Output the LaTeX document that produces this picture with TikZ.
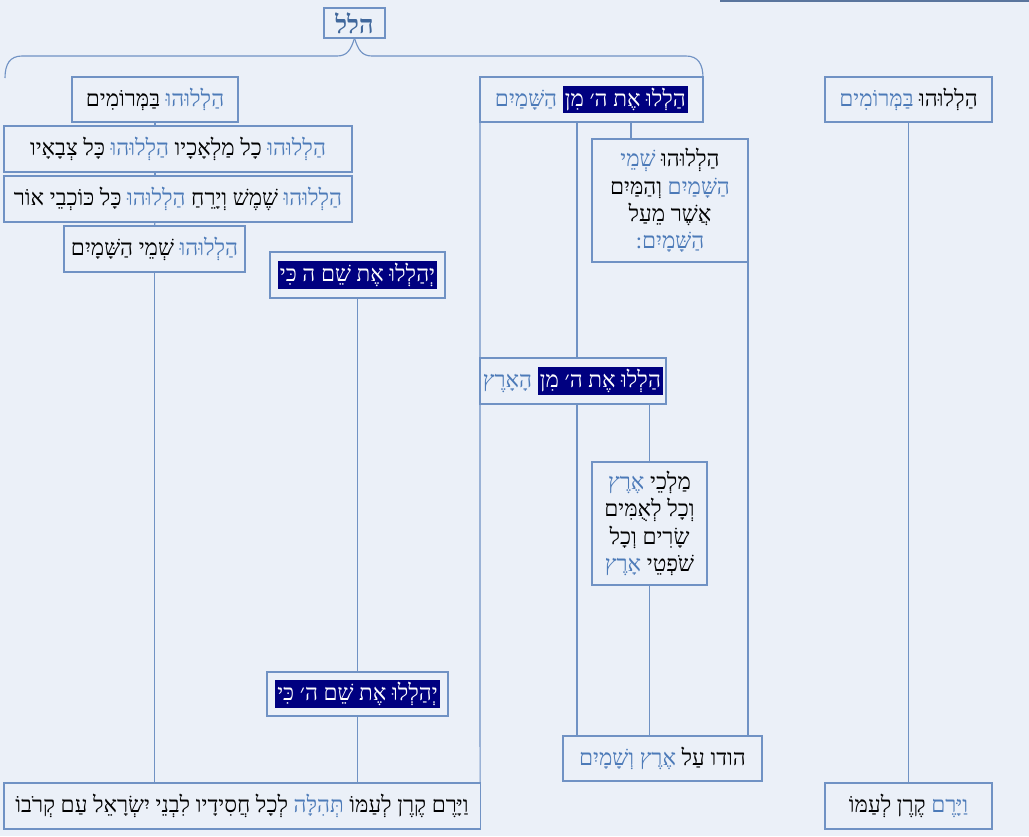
\documentclass[tikz,border=0pt]{standalone}
\usepackage{fontspec}
\usepackage{xcolor}
\newfontfamily\hebfont[Script=Hebrew]{Liberation Serif}
\TeXXeTstate=1
\definecolor{bgblue}{RGB}{235,240,248}
\definecolor{lineblue}{RGB}{112,146,196}
\definecolor{wordblue}{RGB}{76,122,184}
\definecolor{hlnavy}{RGB}{0,0,128}
\newcommand{\hw}[1]{\hbox{\color{black}\beginR #1\endR}}
\newcommand{\hb}[1]{\hbox{\color{wordblue}\beginR #1\endR}}
\newcommand{\hh}[1]{\hbox{\setlength{\fboxsep}{1.5pt}\colorbox{hlnavy}{\color{white}\beginR #1\endR}}}

\begin{document}
\begin{tikzpicture}[x=0.025cm, y=-0.025cm,
            box/.style={draw=lineblue, line width=0.8pt, fill=bgblue, inner sep=2pt,
                        outer sep=0pt, align=center, font=\fontsize{16}{19.5}\selectfont\hebfont},
            link/.style={draw=lineblue, line width=0.8pt}]
        \fill[bgblue] (0,0) rectangle (1029,836);
        \useasboundingbox (0,0) rectangle (1029,836);
        \draw[link, line width=1.2pt, draw=lineblue!80!black] (720,1) -- (1029,1);

        \node[box, minimum width=1.525cm, minimum height=0.75cm,
              font=\fontsize{18}{20}\selectfont\hebfont\bfseries] (hallel) at (354.5,23)
            {\hbox{\color{wordblue!85!black}\beginR הלל\endR}};

        % left column
        \node[box, minimum width=4.15cm, minimum height=1.125cm] (a1) at (155,99.5)
            {\hw{בַּמְּרוֹמִים} \hb{הַלְלוּהוּ}};
        \node[box, minimum width=8.7cm, minimum height=1.15cm] (a2) at (178,149)
            {\hw{כָּל צְבָאָיו} \hb{הַלְלוּהוּ} \hw{כָל מַלְאָכָיו} \hb{הַלְלוּהוּ}};
        \node[box, minimum width=8.7cm, minimum height=1.15cm] (a3) at (178,199)
            {\hw{כָּל כּוֹכְבֵי אוֹר} \hb{הַלְלוּהוּ} \hw{שֶׁמֶשׁ וְיָרֵחַ} \hb{הַלְלוּהוּ}};
        \node[box, minimum width=4.525cm, minimum height=1.15cm] (a4) at (154.5,249)
            {\hw{שְׁמֵי הַשָּׁמָיִם} \hb{הַלְלוּהוּ}};
        \node[box, minimum width=4.375cm, minimum height=1.15cm] (b1) at (357.5,275)
            {\hh{יְהַלְלוּ אֶת שֵׁם ה כִּי}};
        \node[box, minimum width=4.525cm, minimum height=1.1cm] (b2) at (357.5,694)
            {\hh{יְהַלְלוּ אֶת שֵׁם ה׳ כִּי}};
        \node[box, minimum width=11.9cm, minimum height=1.15cm] (vayarem) at (242,806)
            {\hw{לְכָל חֲסִידָיו לִבְנֵי יִשְׂרָאֵל עַם קְרֹבוֹ} \hb{תְּהִלָּה} \hw{וַיָּרֶם קֶרֶן לְעַמּוֹ}};

        % middle column
        \node[box, minimum width=5.575cm, minimum height=1.125cm] (c1) at (591.5,99.5)
            {\hb{הַשָּׁמַיִם} \hh{הַלְלוּ אֶת ה׳ מִן}};
        \node[box, minimum width=3.9cm, minimum height=3.075cm] (c2) at (670,200.5)
            {\hb{שְׁמֵי} \hw{הַלְלוּהוּ}\\ \hw{וְהַמַּיִם} \hb{הַשָּׁמַיִם}\\
             \hw{אֲשֶׁר מֵעַל}\\ \hb{הַשָּׁמָיִם:}};
        \node[box, minimum width=4.65cm, minimum height=1.15cm] (c3) at (573,381)
            {\hb{הָאָרֶץ} \hh{הַלְלוּ אֶת ה׳ מִן}};
        \node[box, minimum width=2.875cm, minimum height=3.075cm] (c4) at (649.5,523.5)
            {\hb{אֶרֶץ} \hw{מַלְכֵי}\\ \hw{וְכָל לְאֻמִּים}\\
             \hw{שָׂרִים וְכָל}\\ \hb{אָרֶץ} \hw{שֹׁפְטֵי}};
        \node[box, minimum width=4.975cm, minimum height=1.125cm] (hodu) at (662.5,758.5)
            {\hb{אֶרֶץ וְשָׁמָיִם} \hw{הודו עַל}};

        % right column
        \node[box, minimum width=4.175cm, minimum height=1.125cm] (d1) at (908.5,99.5)
            {\hb{בַּמְּרוֹמִים} \hw{הַלְלוּהוּ}};
        \node[box, minimum width=4.175cm, minimum height=1.15cm] (d2) at (908.5,806)
            {\hw{קֶרֶן לְעַמּוֹ} \hb{וַיָּרֶם}};

        \coordinate (m1) at (577,0);
        \coordinate (m2) at (631,0);

        \draw[link] (hallel.south) .. controls (358,50) and (362,56) .. (372,56) -- (686,56)
            .. controls (698,56) and (703,64) .. (703,78);
        \draw[link] (hallel.south) .. controls (351,50) and (347,56) .. (337,56) -- (22,56)
            .. controls (10,56) and (5,64) .. (5,78);

        \draw[link] (a1.south) -- (a1.south |- a2.north);
        \draw[link] (a1.south |- a2.south) -- (a1.south |- a3.north);
        \draw[link] (a1.south |- a3.south) -- (a4.north);
        \draw[link] (a4.south) -- (a4.south |- vayarem.north);
        \draw[link] (b1.south) -- (b2.north);
        \draw[link] (b2.south) -- (b2.south |- vayarem.north);

        \draw[link] (c1.south west) -- (c3.north west);
        \draw[link] (c3.south west) -- (vayarem.north east);
        \draw[link] (c1.south -| m1) -- (c3.north -| m1);
        \draw[link] (c3.south -| m1) -- (hodu.north -| m1);
        \draw[link] (c1.south -| m2) -- (c2.north -| m2);
        \draw[link] (c2.south east) -- (c2.south east |- hodu.north);
        \draw[link] (c4.north) -- (c4.north |- c3.south);
        \draw[link] (c4.south) -- (c4.south |- hodu.north);

        \draw[link] (d1.south) -- (d2.north);
\end{tikzpicture}
\end{document}
